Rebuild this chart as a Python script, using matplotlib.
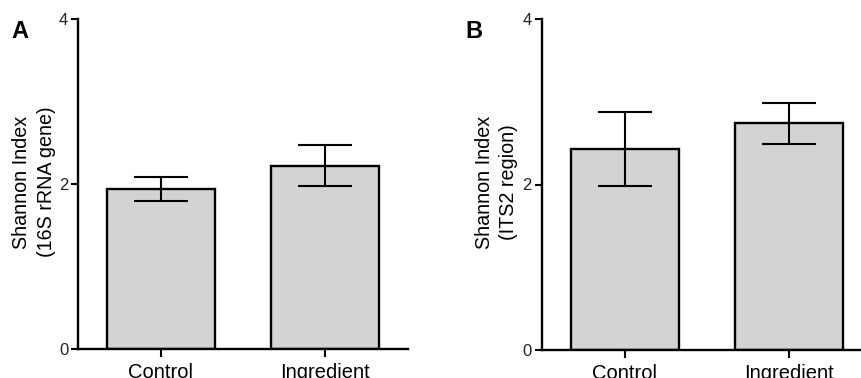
import matplotlib
matplotlib.use("Agg")
import matplotlib.pyplot as plt

plt.rcParams['font.family'] = ['Liberation Sans', 'DejaVu Sans']

categories = ["Control", "Ingredient"]
means_16s = [1.94, 2.22]
err_16s = [0.15, 0.25]
means_its2 = [2.43, 2.74]
err_its2 = [0.45, 0.25]
yticks = [0, 2, 4]

W, H = 861, 378
fig = plt.figure(figsize=(W / 100, H / 100), dpi=100)

def px_axes(l, r, b, t):
    return fig.add_axes([l / W, 1 - b / H, (r - l) / W, (b - t) / H])

def draw(ax, means, errs, xlim):
    x = list(range(len(categories)))
    ax.bar(x, means, width=0.66, color='#d3d3d3', edgecolor='black', linewidth=1.7, zorder=2)
    ax.errorbar(x, means, yerr=errs, fmt='none', ecolor='black', elinewidth=1.5,
                capsize=19.5, capthick=1.5, zorder=3)
    ax.set_xlim(*xlim)
    ax.set_ylim(0, 4)
    ax.set_yticks(yticks)
    ax.set_yticklabels([str(v) for v in yticks], fontsize=12, color='#222222')
    ax.set_xticks(x)
    ax.set_xticklabels(categories, fontsize=14.5)
    for s in ['top', 'right']:
        ax.spines[s].set_visible(False)
    for s in ['left', 'bottom']:
        ax.spines[s].set_linewidth(1.7)
    ax.tick_params(axis='y', length=5, width=1.5, pad=2)
    ax.tick_params(axis='x', length=6, width=1.5, pad=4)

axA = px_axes(78, 408, 349, 19)
draw(axA, means_16s, err_16s, (-0.506, 1.506))
axB = px_axes(541.7, 861, 350, 19)
draw(axB, means_its2, err_its2, (-0.507, 1.44))

fig.text(34.5 / W, 1 - 182 / H, "Shannon Index\n(16S rRNA gene)", rotation=90,
         ha='center', va='center', fontsize=14.2, multialignment='center', linespacing=1.4)
fig.text(496.5 / W, 1 - 182 / H, "Shannon Index\n(ITS2 region)", rotation=90,
         ha='center', va='center', fontsize=14.2, multialignment='center', linespacing=1.4)

fig.text(11 / W, 1 - 38 / H, "A", fontsize=17, fontweight='bold', ha='left', va='baseline')
fig.text(465 / W, 1 - 38 / H, "B", fontsize=17, fontweight='bold', ha='left', va='baseline')

fig.savefig("out.png", dpi=100)
